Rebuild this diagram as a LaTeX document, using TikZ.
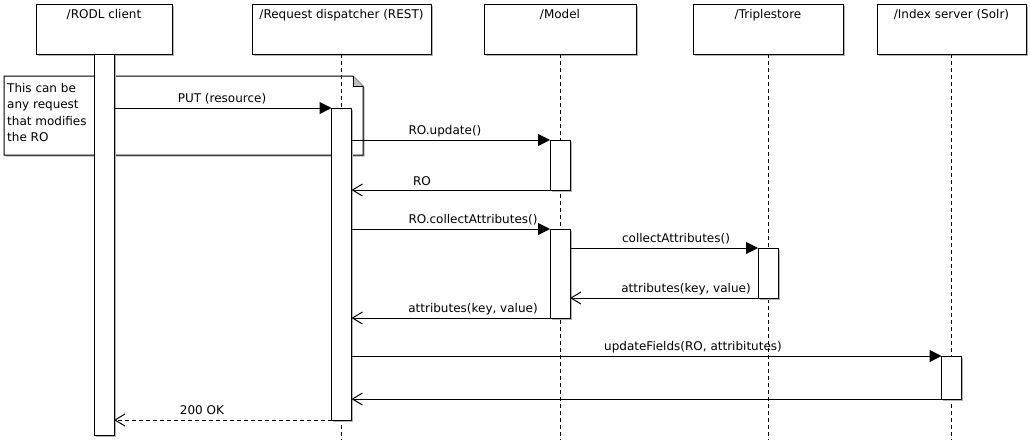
\documentclass[tikz,border=0pt]{standalone}
\usepackage{fontspec}
\setmainfont{DejaVu Sans}
\usetikzlibrary{arrows.meta,shadows}
\tikzset{
  basefont/.style={font=\fontsize{12}{16.4}\selectfont, text=black},
  boxshadow/.style={drop shadow={shadow xshift=1.5pt,shadow yshift=-1.5pt,fill=black!30,opacity=1}},
  hdr/.style={draw=black, line width=1pt, fill=white, anchor=north west, minimum height=50pt, inner sep=0pt, outer sep=0pt, boxshadow},
  hdrtext/.style={basefont, anchor=base, inner sep=0pt},
  actbox/.style={draw=black, line width=1pt, fill=white, minimum width=20pt, inner sep=0pt, outer sep=0pt, anchor=north, boxshadow},
  lifeline/.style={draw=black, line width=1pt, dash pattern=on 4pt off 3pt},
  callmsg/.style={draw=black, line width=1pt, -{Triangle[length=12pt,width=12pt]}},
  replymsg/.style={draw=black, line width=1pt, -{Straight Barb[length=10pt,width=12pt]}},
  msglabel/.style={basefont, anchor=base, inner sep=0pt},
  notebox/.style={draw=black, line width=1pt, fill=white, boxshadow},
}
\begin{document}
\begin{tikzpicture}[x=1pt,y=-1pt]
\useasboundingbox (0,0) rectangle (1030,440);
\fill[white] (0,0) rectangle (1030,440);
\coordinate (bottom) at (0,440);
% note
\path[notebox] (4,76) -- (353,76) -- (363,86) -- (363,155) -- (4,155) -- cycle;
\fill[black!25] (353,76) -- (353,86) -- (363,86) -- cycle;
\draw[line width=1pt] (353,76) -- (353,86) -- (363,86);
\node[basefont, align=left, anchor=north west, inner sep=0pt] (noteText) at (7,83) {This can be\\any request\\that modifies\\the RO};
% headers
\node[hdr, minimum width=136pt] (hR) at (36,4) {};
\node[hdr, minimum width=179pt] (hD) at (252,4) {};
\node[hdr, minimum width=152pt] (hM) at (484,4) {};
\node[hdr, minimum width=150pt] (hT) at (693,4) {};
\node[hdr, minimum width=149pt] (hI) at (877,4) {};
\node[hdrtext] (tR) at (hR.north |- 0,18.5) {/RODL client};
\node[hdrtext] (tD) at (hD.north |- 0,18.5) {/Request dispatcher (REST)};
\node[hdrtext] (tM) at (hM.north |- 0,18.5) {/Model};
\node[hdrtext] (tT) at (hT.north |- 0,18.5) {/Triplestore};
\node[hdrtext] (tI) at (hI.north |- 0,18.5) {/Index server (Solr)};
% lifelines
\foreach \h in {hD,hM,hT,hI} \draw[lifeline] (\h.south) -- (\h.south |- bottom);
% message rows
\coordinate (y1) at (0,108);
\coordinate (y2) at (0,140);
\coordinate (y3) at (0,190);
\coordinate (y4) at (0,229);
\coordinate (y5) at (0,248);
\coordinate (y6) at (0,298);
\coordinate (y7) at (0,318);
\coordinate (y8) at (0,356);
\coordinate (y9) at (0,399);
\coordinate (y10) at (0,420);
% activations
\node[actbox, minimum height=381pt] (aR) at (hR.south) {};
\node[actbox, minimum height=312pt] (aD) at (hD.south |- y1) {};
\node[actbox, minimum height=50pt] (aM1) at (hM.south |- y2) {};
\node[actbox, minimum height=89pt] (aM2) at (hM.south |- y4) {};
\node[actbox, minimum height=50pt] (aT) at (hT.south |- y5) {};
\node[actbox, minimum height=43pt] (aI) at (hI.south |- y8) {};
% messages
\draw[callmsg] (aR.east |- y1) -- (aD.west |- y1);
\draw[callmsg] (aD.east |- y2) -- (aM1.west |- y2);
\draw[replymsg] (aM1.west |- y3) -- (aD.east |- y3);
\draw[callmsg] (aD.east |- y4) -- (aM2.west |- y4);
\draw[callmsg] (aM2.east |- y5) -- (aT.west |- y5);
\draw[replymsg] (aT.west |- y6) -- (aM2.east |- y6);
\draw[replymsg] (aM2.west |- y7) -- (aD.east |- y7);
\draw[callmsg] (aD.east |- y8) -- (aI.west |- y8);
\draw[replymsg] (aI.west |- y9) -- (aD.east |- y9);
\draw[replymsg, dash pattern=on 4pt off 3pt] (aD.west |- y10) -- (aR.east |- y10);
% labels
\node[msglabel] (l1) at (222,102) {PUT (resource)};
\node[msglabel] (l2) at (445,134) {RO.update()};
\node[msglabel] (l3) at (422,185) {RO};
\node[msglabel] (l4) at (473,223) {RO.collectAttributes()};
\node[msglabel] (l5) at (676,242) {collectAttributes()};
\node[msglabel] (l6) at (686,292) {attributes(key, value)};
\node[msglabel] (l7) at (473,312) {attributes(key, value)};
\node[msglabel] (l8) at (693,350) {updateFields(RO, attribitutes)};
\node[msglabel] (l10) at (202,414.5) {200 OK};
\end{tikzpicture}
\end{document}
